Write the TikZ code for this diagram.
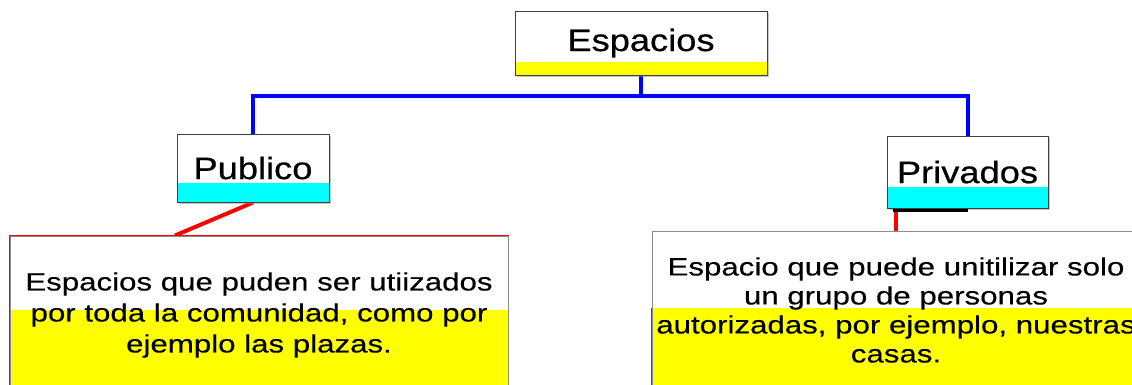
\documentclass[tikz,border=0pt]{standalone}
\usepackage{fontspec}
\setmainfont{Liberation Sans}
\newfontfamily\bodyf[FakeStretch=1.25,FakeBold=0.3]{Liberation Sans}
\newfontfamily\headf[FakeStretch=1.17,FakeBold=0.6]{Liberation Sans}
\usetikzlibrary{shadows,backgrounds}
\definecolor{ylw}{RGB}{255,255,0}
\definecolor{cyn}{RGB}{0,255,255}
\definecolor{blu}{RGB}{0,0,255}
\definecolor{rd}{RGB}{255,0,0}
\begin{document}
\begin{tikzpicture}[x=1pt,y=-1pt,
  band/.style 2 args={path picture={\fill[#1] (path picture bounding box.south west) rectangle ([yshift=#2]path picture bounding box.south east);}},
  headbox/.style={draw=black!75, fill=white, line width=1pt, inner sep=0pt,
    font=\headf\fontsize{31}{36}\selectfont,
    drop shadow={shadow xshift=2pt, shadow yshift=-2pt, fill=black!45}},
  bigbox/.style={draw=black!45, fill=white, line width=1pt, inner sep=0pt, align=center},
  bluec/.style={draw=blu, line width=4pt},
  redc/.style={draw=rd, line width=4pt}
]
\useasboundingbox (0,0) rectangle (1132,384);
\clip (0,0) rectangle (1132,384);

\node[headbox, minimum width=252, minimum height=64, band={ylw}{13pt}] (esp) at (641,43) {Espacios};
\node[headbox, minimum width=152, minimum height=68, band={cyn}{19pt}] (pub) at (253,168) {Publico};
\node[headbox, minimum width=161, minimum height=72, band={cyn}{21pt}] (priv) at (967.5,172) {Privados};

\node[bigbox, minimum width=498, minimum height=158, band={ylw}{84pt},
  font=\bodyf\fontsize{25}{31}\selectfont] (lbox) at (259,315)
  {Espacios que puden ser utiizados\\por toda la comunidad, como por\\ejemplo las plazas.};
\node[bigbox, minimum width=488, minimum height=158, band={ylw}{81pt},
  font=\bodyf\fontsize{25}{29}\selectfont] (rbox) at (896,310)
  {Espacio que puede unitilizar solo\\un grupo de personas\\autorizadas, por ejemplo, nuestras\\casas.};

\draw[rd, line width=1.2pt] (lbox.south west) -- (lbox.north west) -- (lbox.north east);
\draw[rd, line width=1.2pt] (rbox.south west) -- ([yshift=-77pt]rbox.north west);

\begin{pgfonlayer}{background}
\fill[white] (0,0) rectangle (1132,384);
\coordinate (bus) at (641,96);
\draw[bluec] (esp.south) -- (bus) -| (pub.north);
\draw[bluec] (bus) -| (priv.north);
\draw[redc] (pub.south) -- ([xshift=-84pt]lbox.north);
\draw[redc] ([xshift=9pt]priv.south west) -- ([xshift=9pt]priv.south west |- rbox.north);
\end{pgfonlayer}
\draw[line width=3pt] ([xshift=6pt,yshift=-2pt]priv.south west) -- ([yshift=-2pt]priv.south);
\end{tikzpicture}
\end{document}
